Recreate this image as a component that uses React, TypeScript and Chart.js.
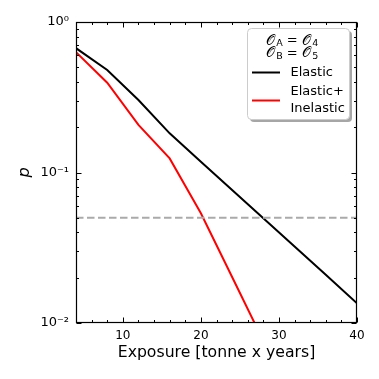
import React, { useEffect, useRef } from 'react';
import { Chart, registerables } from 'chart.js';

Chart.register(...registerables);

const exposure = [4, 8, 12, 16, 20, 24, 28, 32, 36, 40];
const elastic = [0.67, 0.48, 0.303, 0.182, 0.118, 0.0766, 0.0497, 0.0322, 0.0209, 0.0135];
const exposureInelastic = [4, 8, 12, 16, 20, 24, 28];
const elasticInelastic = [0.63, 0.395, 0.207, 0.124, 0.0536, 0.0202, 0.0076];
const threshold = 0.05;
const xTicks = [10, 20, 30, 40];
const xMinorTicks = [6, 8, 12, 14, 16, 18, 22, 24, 26, 28, 32, 34, 36, 38];
const yTicks = [0.01, 0.1, 1];
const yTickLabels = ['10⁻²', '10⁻¹', '10⁰'];
const yMinorMultipliers = [2, 3, 4, 5, 6, 7, 8, 9];
const seriesLabels = ['Elastic', 'Elastic+\nInelastic'];
const xTitle = 'Exposure [tonne x years]';
const yTitle = 'p';

const FONT = "'DejaVu Sans', sans-serif";

const frameTicksPlugin = {
  id: 'frameTicks',
  afterDatasetsDraw(chart: any) {
    const { ctx, chartArea: a, scales } = chart;
    const x = scales.x;
    const y = scales.y;
    ctx.save();
    ctx.strokeStyle = '#000';
    ctx.lineWidth = 1;
    const seg = (x1: number, y1: number, x2: number, y2: number) => {
      ctx.beginPath();
      ctx.moveTo(x1, y1);
      ctx.lineTo(x2, y2);
      ctx.stroke();
    };
    const L = Math.round(a.left) + 0.5;
    const R = Math.round(a.right) - 0.5;
    const T = Math.round(a.top) + 0.5;
    const B = Math.round(a.bottom) - 0.5;
    const xt = (v: number, len: number) => {
      const px = Math.round(x.getPixelForValue(v)) + 0.5;
      seg(px, B, px, B - len);
      seg(px, T, px, T + len);
    };
    xTicks.forEach((v) => xt(v, 5));
    xMinorTicks.forEach((v) => xt(v, 2.5));
    const yt = (v: number, len: number) => {
      const py = Math.round(y.getPixelForValue(v)) + 0.5;
      seg(L, py, L + len, py);
      seg(R, py, R - len, py);
    };
    yTicks.forEach((v) => yt(v, 5));
    [0.01, 0.1].forEach((d) => yMinorMultipliers.forEach((m) => yt(d * m, 2.5)));
    ctx.lineWidth = 1.2;
    ctx.strokeRect(L, T, R - L, B - T);
    ctx.restore();
  },
};

function drawMathLine(ctx: CanvasRenderingContext2D, cx: number, cy: number, sub1: string, sub2: string) {
  const parts: [string, number, number, number][] = [
    ['𝒪', 14, 0, 1.5],
    [sub1, 9.5, 3, 0],
    [' = ', 13, 0, 0],
    ['𝒪', 14, 0, 1.5],
    [sub2, 9.5, 3, 0],
  ];
  let total = 0;
  parts.forEach(([t, s, , gap]) => {
    ctx.font = `${s}px ${FONT}`;
    total += ctx.measureText(t).width + gap;
  });
  let xx = cx - total / 2;
  parts.forEach(([t, s, dy, gap]) => {
    ctx.font = `${s}px ${FONT}`;
    ctx.fillText(t, xx, cy + dy);
    xx += ctx.measureText(t).width + gap;
  });
}

const legendPlugin = {
  id: 'customLegend',
  afterDraw(chart: any) {
    const ctx: CanvasRenderingContext2D = chart.ctx;
    ctx.save();
    const bx = 247, by = 28, bw = 102, bh = 91, r = 4;
    const rr = (x0: number, y0: number) => {
      ctx.beginPath();
      ctx.roundRect(x0, y0, bw, bh, r);
    };
    rr(bx + 3, by + 3);
    ctx.fillStyle = 'rgba(0,0,0,0.35)';
    ctx.fill();
    rr(bx + 0.5, by + 0.5);
    ctx.fillStyle = '#ffffff';
    ctx.fill();
    ctx.strokeStyle = '#cccccc';
    ctx.lineWidth = 1;
    ctx.stroke();

    ctx.fillStyle = '#000';
    ctx.textBaseline = 'middle';
    ctx.textAlign = 'left';
    drawMathLine(ctx, 292, 41, 'A', '4');
    drawMathLine(ctx, 292, 53.5, 'B', '5');

    ctx.lineWidth = 2;
    ctx.strokeStyle = '#000';
    ctx.beginPath();
    ctx.moveTo(252, 72.5);
    ctx.lineTo(280, 72.5);
    ctx.stroke();
    ctx.strokeStyle = '#ff0000';
    ctx.beginPath();
    ctx.moveTo(252, 100.5);
    ctx.lineTo(280, 100.5);
    ctx.stroke();

    ctx.font = `13px ${FONT}`;
    ctx.fillStyle = '#000';
    ctx.fillText(seriesLabels[0], 290.5, 73);
    const lines = seriesLabels[1].split('\n');
    ctx.fillText(lines[0], 290.5, 92);
    ctx.fillText(lines[1], 290.5, 108.5);
    ctx.restore();
  },
};

export default function App() {
  const ref = useRef<HTMLCanvasElement | null>(null);
  useEffect(() => {
    if (!ref.current) return;
    const chart = new Chart(ref.current, {
      type: 'line',
      data: {
        datasets: [
          {
            label: 'threshold',
            data: [
              { x: 4, y: threshold },
              { x: 40, y: threshold },
            ],
            borderColor: '#aaaaaa',
            borderWidth: 2,
            borderDash: [7.5, 3.5],
            pointRadius: 0,
            clip: 0,
          },
          {
            label: seriesLabels[0],
            data: exposure.map((v, i) => ({ x: v, y: elastic[i] })),
            borderColor: '#000000',
            borderWidth: 2,
            pointRadius: 0,
            clip: 0,
          },
          {
            label: seriesLabels[1],
            data: exposureInelastic.map((v, i) => ({ x: v, y: elasticInelastic[i] })),
            borderColor: '#ff0000',
            borderWidth: 2,
            pointRadius: 0,
            clip: 0,
          },
        ],
      },
      options: {
        animation: false,
        responsive: false,
        events: [],
        layout: { padding: { left: 0, top: 22, right: 22, bottom: 0 } },
        plugins: {
          legend: { display: false },
          tooltip: { enabled: false },
        },
        scales: {
          x: {
            type: 'linear',
            min: 4,
            max: 40,
            grid: { display: false, drawTicks: false },
            border: { display: false },
            afterBuildTicks: (s: any) => {
              s.ticks = xTicks.map((v) => ({ value: v }));
            },
            afterFit: (s: any) => {
              s.height = 56;
            },
            ticks: {
              color: '#000',
              font: { family: FONT, size: 12 },
              padding: 6,
              maxRotation: 0,
              callback: (v: any) => String(v),
            },
            title: {
              display: true,
              text: xTitle,
              color: '#000',
              font: { family: FONT, size: 15.7 },
              padding: { top: 0, bottom: 17 },
            },
          },
          y: {
            type: 'logarithmic',
            min: 0.01,
            max: 1,
            grid: { display: false, drawTicks: false },
            border: { display: false },
            afterBuildTicks: (s: any) => {
              s.ticks = yTicks.map((v) => ({ value: v }));
            },
            afterFit: (s: any) => {
              s.width = 76;
            },
            ticks: {
              color: '#000',
              font: { family: FONT, size: 13 },
              padding: 7,
              callback: (v: any) => {
                const i = yTicks.findIndex((t) => Math.abs(t - v) < 1e-9);
                return i >= 0 ? yTickLabels[i] : '';
              },
            },
            title: {
              display: true,
              text: yTitle,
              color: '#000',
              font: { family: FONT, size: 16, style: 'italic' },
              padding: { top: 15, bottom: 0 },
            },
          },
        },
      },
      plugins: [frameTicksPlugin, legendPlugin],
    });
    return () => chart.destroy();
  }, []);
  return (
    <div style={{ position: 'absolute', left: 0, top: 0, width: 379, height: 379, background: '#fff' }}>
      <canvas ref={ref} width={379} height={379} style={{ display: 'block', width: 379, height: 379 }} />
    </div>
  );
}
